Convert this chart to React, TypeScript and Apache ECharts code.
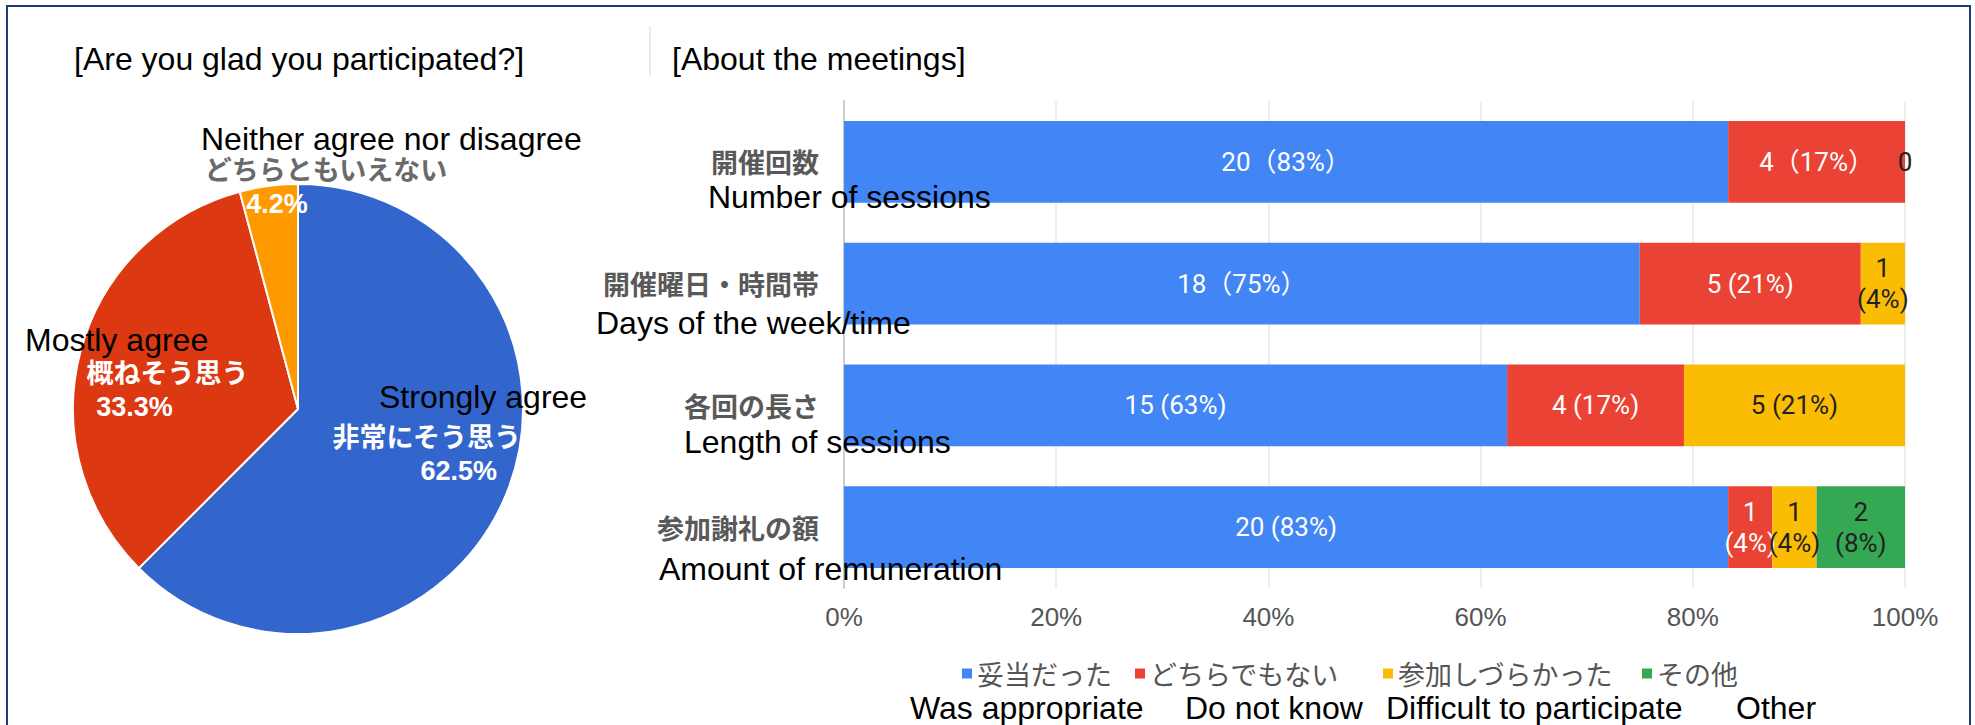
import React, { useEffect, useRef } from 'react';
import * as echarts from 'echarts';

// ---- Pie: "Are you glad you participated?" ----
const pieCategories = ['非常にそう思う', '概ねそう思う', 'どちらともいえない'];
const pieValues = [15, 8, 1];
const pieColors = ['#3366CC', '#DC3912', '#FF9900'];

// ---- Stacked bars: "About the meetings" ----
const barCategories = ['開催回数', '開催曜日・時間帯', '各回の長さ', '参加謝礼の額'];
const seriesNames = ['妥当だった', 'どちらでもない', '参加しづらかった', 'その他'];
const barColors = ['#4285F4', '#EA4335', '#FBBC04', '#34A853'];
const appropriateValues = [20, 18, 15, 20];
const neutralValues = [4, 5, 4, 1];
const difficultValues = [0, 1, 5, 1];
const otherValues = [null, null, null, 2];
const appropriateLabels = ['20（83%）', '18（75%）', '15 (63%)', '20 (83%)'];
const neutralLabels = ['4（17%）', '5 (21%)', '4 (17%)', '1\n(4%)'];
const difficultLabels = ['0', '1\n(4%)', '5 (21%)', '1\n(4%)'];
const otherLabels = ['', '', '', '2\n(8%)'];
const xTickLabels = ['0%', '20%', '40%', '60%', '80%', '100%'];
const respondents = 24;

// English annotations
const enCategoryLabels = ['Number of sessions', 'Days of the week/time', 'Length of sessions', 'Amount of remuneration'];
const enLegendLabels = ['Was appropriate', 'Do not know', 'Difficult to participate', 'Other'];

const EN_FONT = "'Liberation Sans', Arial, sans-serif";
const JP_FONT = "'Noto Sans CJK JP', sans-serif";

export default function App() {
  const ref = useRef<HTMLDivElement>(null);

  useEffect(() => {
    document.body.style.margin = '0';
    if (!ref.current) return;
    const chart = echarts.init(ref.current, undefined, { renderer: 'svg' });

    const pieTotal = pieValues.reduce((a, b) => a + b, 0);
    const pieLabelOffsets = [
      { dx: 22, dy: 0 },
      { dx: -19, dy: 10 },
      { dx: 43, dy: -108 },
    ];
    const piePctPadding = [
      [0, 0, 0, 64],
      [0, 66, 0, 0],
      [0, 98, 0, 0],
    ];
    const pieNameColors = ['#ffffff', '#ffffff', '#6a6a6a'];

    const barSeriesData = [appropriateValues, neutralValues, difficultValues, otherValues];
    const barLabelTexts = [appropriateLabels, neutralLabels, difficultLabels, otherLabels];
    const barLabelColors = ['#ffffff', '#ffffff', '#222222', '#222222'];

    const legendLeft = [957, 1130, 1378, 1637];

    const enCatPos = [
      { x: 708, y: 197 },
      { x: 596, y: 323 },
      { x: 684, y: 442 },
      { x: 659, y: 569 },
    ];
    const enLegendX = [910, 1185, 1386, 1736];

    const enText = (t: string, x: number, y: number) => ({
      type: 'text', x, y, z: 100,
      style: { text: t, font: `32px ${EN_FONT}`, fill: '#000', verticalAlign: 'middle' },
    });

    const graphics: any[] = [
      {
        type: 'rect',
        shape: { x: 7, y: 6, width: 1963, height: 740 },
        style: { fill: 'none', stroke: '#1F3A7A', lineWidth: 2 },
        z: 0,
      },
      {
        type: 'line',
        shape: { x1: 650, y1: 26, x2: 650, y2: 76 },
        style: { stroke: '#e4e4e4', lineWidth: 1.5 },
        z: 0,
      },
      enText('[Are you glad you participated?]', 74, 59),
      enText('[About the meetings]', 672, 59),
      enText('Neither agree nor disagree', 201, 139),
      enText('Mostly agree', 25, 340),
      enText('Strongly agree', 379, 397),
      ...enCategoryLabels.map((t, i) => enText(t, enCatPos[i].x, enCatPos[i].y)),
      ...enLegendLabels.map((t, i) => enText(t, enLegendX[i], 708)),
    ];

    const option: any = {
      animation: false,
      backgroundColor: '#ffffff',
      textStyle: { fontFamily: `'Liberation Sans', Arial, 'Noto Sans CJK JP', sans-serif` },
      legend: seriesNames.map((name, i) => ({
        data: [name],
        left: legendLeft[i],
        top: 655,
        icon: 'rect',
        itemWidth: 10,
        itemHeight: 10,
        textStyle: { fontSize: 27, color: '#555555', fontFamily: JP_FONT },
      })),
      grid: { left: 844, right: 70, top: 101, bottom: 137, containLabel: false },
      xAxis: {
        type: 'value',
        min: 0,
        max: respondents,
        interval: respondents / 5,
        axisLine: { show: false },
        axisTick: { show: false },
        splitLine: { show: true, lineStyle: { color: '#e8e8e8', width: 1.5 } },
        axisLabel: {
          fontSize: 26,
          color: '#555555',
          margin: 16,
          fontFamily: EN_FONT,
          formatter: (v: number) => xTickLabels[Math.round((v / respondents) * 5)],
        },
      },
      yAxis: {
        type: 'category',
        data: barCategories,
        inverse: true,
        axisTick: { show: false },
        axisLine: { show: true, lineStyle: { color: '#cccccc', width: 2 } },
        axisLabel: { fontSize: 27, color: '#595959', fontWeight: 'bold', margin: 25, fontFamily: JP_FONT },
      },
      series: [
        {
          type: 'pie',
          center: [298, 409],
          radius: 225,
          startAngle: 90,
          clockwise: true,
          itemStyle: { borderColor: '#ffffff', borderWidth: 2 },
          labelLine: { show: false },
          labelLayout: (p: any) => pieLabelOffsets[p.dataIndex],
          data: pieCategories.map((name, i) => ({
            name,
            value: pieValues[i],
            itemStyle: { color: pieColors[i] },
            label: {
              show: true,
              position: 'inside',
              formatter: `{n|${name}}\n{p|${((pieValues[i] / pieTotal) * 100).toFixed(1)}%}`,
              rich: {
                n: { color: pieNameColors[i], fontSize: 27, fontWeight: 'bold', lineHeight: 36, fontFamily: JP_FONT },
                p: {
                  color: '#ffffff', fontSize: 27, fontWeight: 'bold', lineHeight: 36,
                  fontFamily: EN_FONT, padding: piePctPadding[i],
                },
              },
            },
          })),
        },
        ...seriesNames.map((name, s) => ({
          type: 'bar',
          name,
          stack: 'total',
          barCategoryGap: '33%',
          itemStyle: { color: barColors[s] },
          label: {
            show: true,
            position: 'inside',
            color: barLabelColors[s],
            fontSize: 26,
            lineHeight: 31,
            fontFamily: "Roboto, 'Noto Sans CJK JP', sans-serif",
            formatter: (p: any) => barLabelTexts[s][p.dataIndex],
          },
          data: barSeriesData[s],
        })),
      ],
      graphic: graphics,
    };

    chart.setOption(option);
    return () => chart.dispose();
  }, []);

  return <div ref={ref} style={{ width: 1975, height: 725 }} />;
}
